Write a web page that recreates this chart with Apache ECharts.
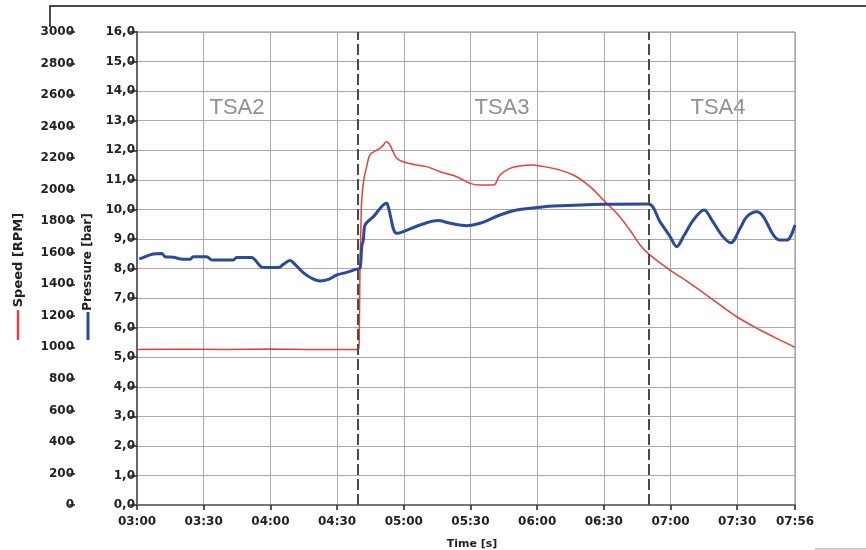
<!DOCTYPE html>
<html>
<head>
<meta charset="utf-8">
<script src="https://cdn.jsdelivr.net/npm/echarts@6/dist/echarts.min.js"></script>
<style>html,body{margin:0;padding:0;background:#fff}#c{width:866px;height:550px}</style>
</head>
<body>
<div id="c"></div>
<script>
// Pressure [bar] over time [s]
var pressureTime = [181,182.1,187.3,191.1,192.6,196.3,200.8,203.8,205.3,211.4,213.6,223.3,224.8,231.6,233.1,236.8,243.6,245.8,248.8,250.3,254.8,258.6,262.3,266.1,269.8,274.3,278.8,280.3,281.1,281.8,282.6,286.3,292.3,293.0,296.8,299.8,307.3,315.5,320.8,328.3,334.3,343.3,350.8,361.3,367.3,389.8,410.0,415.3,419.8,422.8,425.8,430.3,435.1,438.6,443.0,447.1,451.3,454.3,458.8,461.8,466.3,469.2,472.3,476];
var pressureVals = [8.33,8.35,8.49,8.51,8.40,8.38,8.31,8.31,8.40,8.40,8.29,8.29,8.37,8.37,8.29,8.03,8.03,8.14,8.27,8.20,7.86,7.67,7.58,7.63,7.78,7.87,7.98,8.01,8.74,8.96,9.47,9.75,10.21,10.09,9.19,9.25,9.47,9.62,9.53,9.45,9.53,9.81,9.98,10.07,10.11,10.17,10.18,9.58,9.08,8.74,9.08,9.64,9.98,9.64,9.13,8.87,9.36,9.75,9.92,9.75,9.13,8.96,8.96,9.47];
// Speed [RPM] over time [s]
var speedTime = [180,200,220,240,260,279.8,280.0,280.3,280.7,281.1,282.0,283.3,284.8,287.8,290.0,292.3,293.8,296.8,299.8,305.8,310.3,316.3,323.8,329.8,334.3,340.3,343.3,347.8,352.3,358.3,361.3,367.3,376.3,383.8,389.8,395.8,401.7,406.3,410.8,419.8,428.8,439.3,449.8,460.3,469.3,476];
var speedVals = [986,988,987,989,986,987,1100,1500,1750,1934,2060,2146,2220,2251,2270,2304,2283,2199,2177,2156,2146,2114,2082,2040,2029,2029,2093,2135,2150,2156,2150,2135,2093,2019,1934,1850,1744,1649,1585,1490,1406,1300,1194,1110,1046,1000];
// Phase boundaries [s] and phase labels
var phaseBounds = [279.5, 410.3];
var phaseLabels = ['TSA2', 'TSA3', 'TSA4'];

function pairs(t, v){ return t.map(function(x,i){ return [x, v[i]]; }); }
function mmss(v){ var m = Math.floor(v/60), s = Math.round(v - m*60); return (m<10?'0':'')+m+':'+(s<10?'0':'')+s; }

var F = 'DejaVu Sans';
var lab = {fontFamily:F, fontWeight:'bold', fontSize:12, color:'#222'};
var chart = echarts.init(document.getElementById('c'), null, {renderer:'canvas'});
chart.setOption({
  backgroundColor:'#fff',
  animation:false,
  grid:{left:137, right:71, top:32, bottom:45, outerBoundsMode:'none', containLabel:false, show:true, borderColor:'#888', borderWidth:1, backgroundColor:'transparent'},
  xAxis:{
    type:'value', min:180, max:476, interval:30,
    name:'Time [s]', nameLocation:'middle', nameGap:34,
    nameTextStyle:{fontFamily:F, fontWeight:'bold', fontSize:11, color:'#222', padding:[0,0,0,12]},
    axisLine:{show:true, lineStyle:{color:'#777', width:2}},
    axisTick:{show:true, length:5, lineStyle:{color:'#222', width:1.5}},
    axisLabel:Object.assign({margin:11, formatter:mmss}, lab),
    splitLine:{show:true, lineStyle:{color:'#aaa', width:1}}
  },
  yAxis:[
    {
      type:'value', min:0, max:16, interval:1, position:'left',
      axisLine:{show:true, lineStyle:{color:'#666', width:2}},
      axisTick:{show:true, length:7, lineStyle:{color:'#222', width:1.5}},
      axisLabel:Object.assign({margin:2, formatter:function(v){return v.toFixed(1).replace('.',',');}}, lab),
      splitLine:{show:true, lineStyle:{color:'#aaa', width:1}}
    },
    {
      type:'value', min:0, max:3000, interval:200, position:'left', offset:62,
      axisLine:{show:false},
      axisTick:{show:true, length:6, lineStyle:{color:'#222', width:1.5}},
      axisLabel:Object.assign({margin:1, formatter:function(v){return String(v);}}, lab),
      splitLine:{show:false}
    }
  ],
  series:[
    {
      type:'line', name:'Speed', yAxisIndex:1, data:pairs(speedTime, speedVals),
      showSymbol:false, smooth:0.35,
      lineStyle:{color:'#e5403a', width:1.5}, z:3
    },
    {
      type:'line', name:'Pressure', yAxisIndex:0, data:pairs(pressureTime, pressureVals),
      showSymbol:false, smooth:0.35,
      lineStyle:{color:'#2c4a9c', width:3}, z:4,
      markLine:{
        silent:true, symbol:['none','none'], label:{show:false},
        lineStyle:{color:'#4a4a4a', width:2, type:[11,4]},
        data:phaseBounds.map(function(b){ return {xAxis:b}; })
      }
    }
  ],
  graphic:[
    {type:'polyline', shape:{points:[[50,27],[50,6],[866,6]]}, style:{stroke:'#111', lineWidth:1.5, fill:null}},
    {type:'line', shape:{x1:815, y1:549, x2:866, y2:549}, style:{stroke:'#999', lineWidth:1}},
    {type:'text', x:237, y:108, style:{text:phaseLabels[0], font:'22px "Liberation Sans"', fill:'#909090', textAlign:'center', textVerticalAlign:'middle'}},
    {type:'text', x:502, y:108, style:{text:phaseLabels[1], font:'22px "Liberation Sans"', fill:'#909090', textAlign:'center', textVerticalAlign:'middle'}},
    {type:'text', x:718, y:108, style:{text:phaseLabels[2], font:'22px "Liberation Sans"', fill:'#909090', textAlign:'center', textVerticalAlign:'middle'}},
    {type:'text', x:18.5, y:260, rotation:Math.PI/2, style:{text:'Speed [RPM]', font:'bold 13px "DejaVu Sans"', fill:'#222', textAlign:'center', textVerticalAlign:'middle'}},
    {type:'line', shape:{x1:18, y1:310, x2:18, y2:340}, style:{stroke:'#e5403a', lineWidth:2.5}},
    {type:'text', x:88, y:262, rotation:Math.PI/2, style:{text:'Pressure [bar]', font:'bold 12px "DejaVu Sans"', fill:'#222', textAlign:'center', textVerticalAlign:'middle'}},
    {type:'line', shape:{x1:88, y1:312, x2:88, y2:340}, style:{stroke:'#2c4a9c', lineWidth:3}}
  ]
});
</script>
</body>
</html>
